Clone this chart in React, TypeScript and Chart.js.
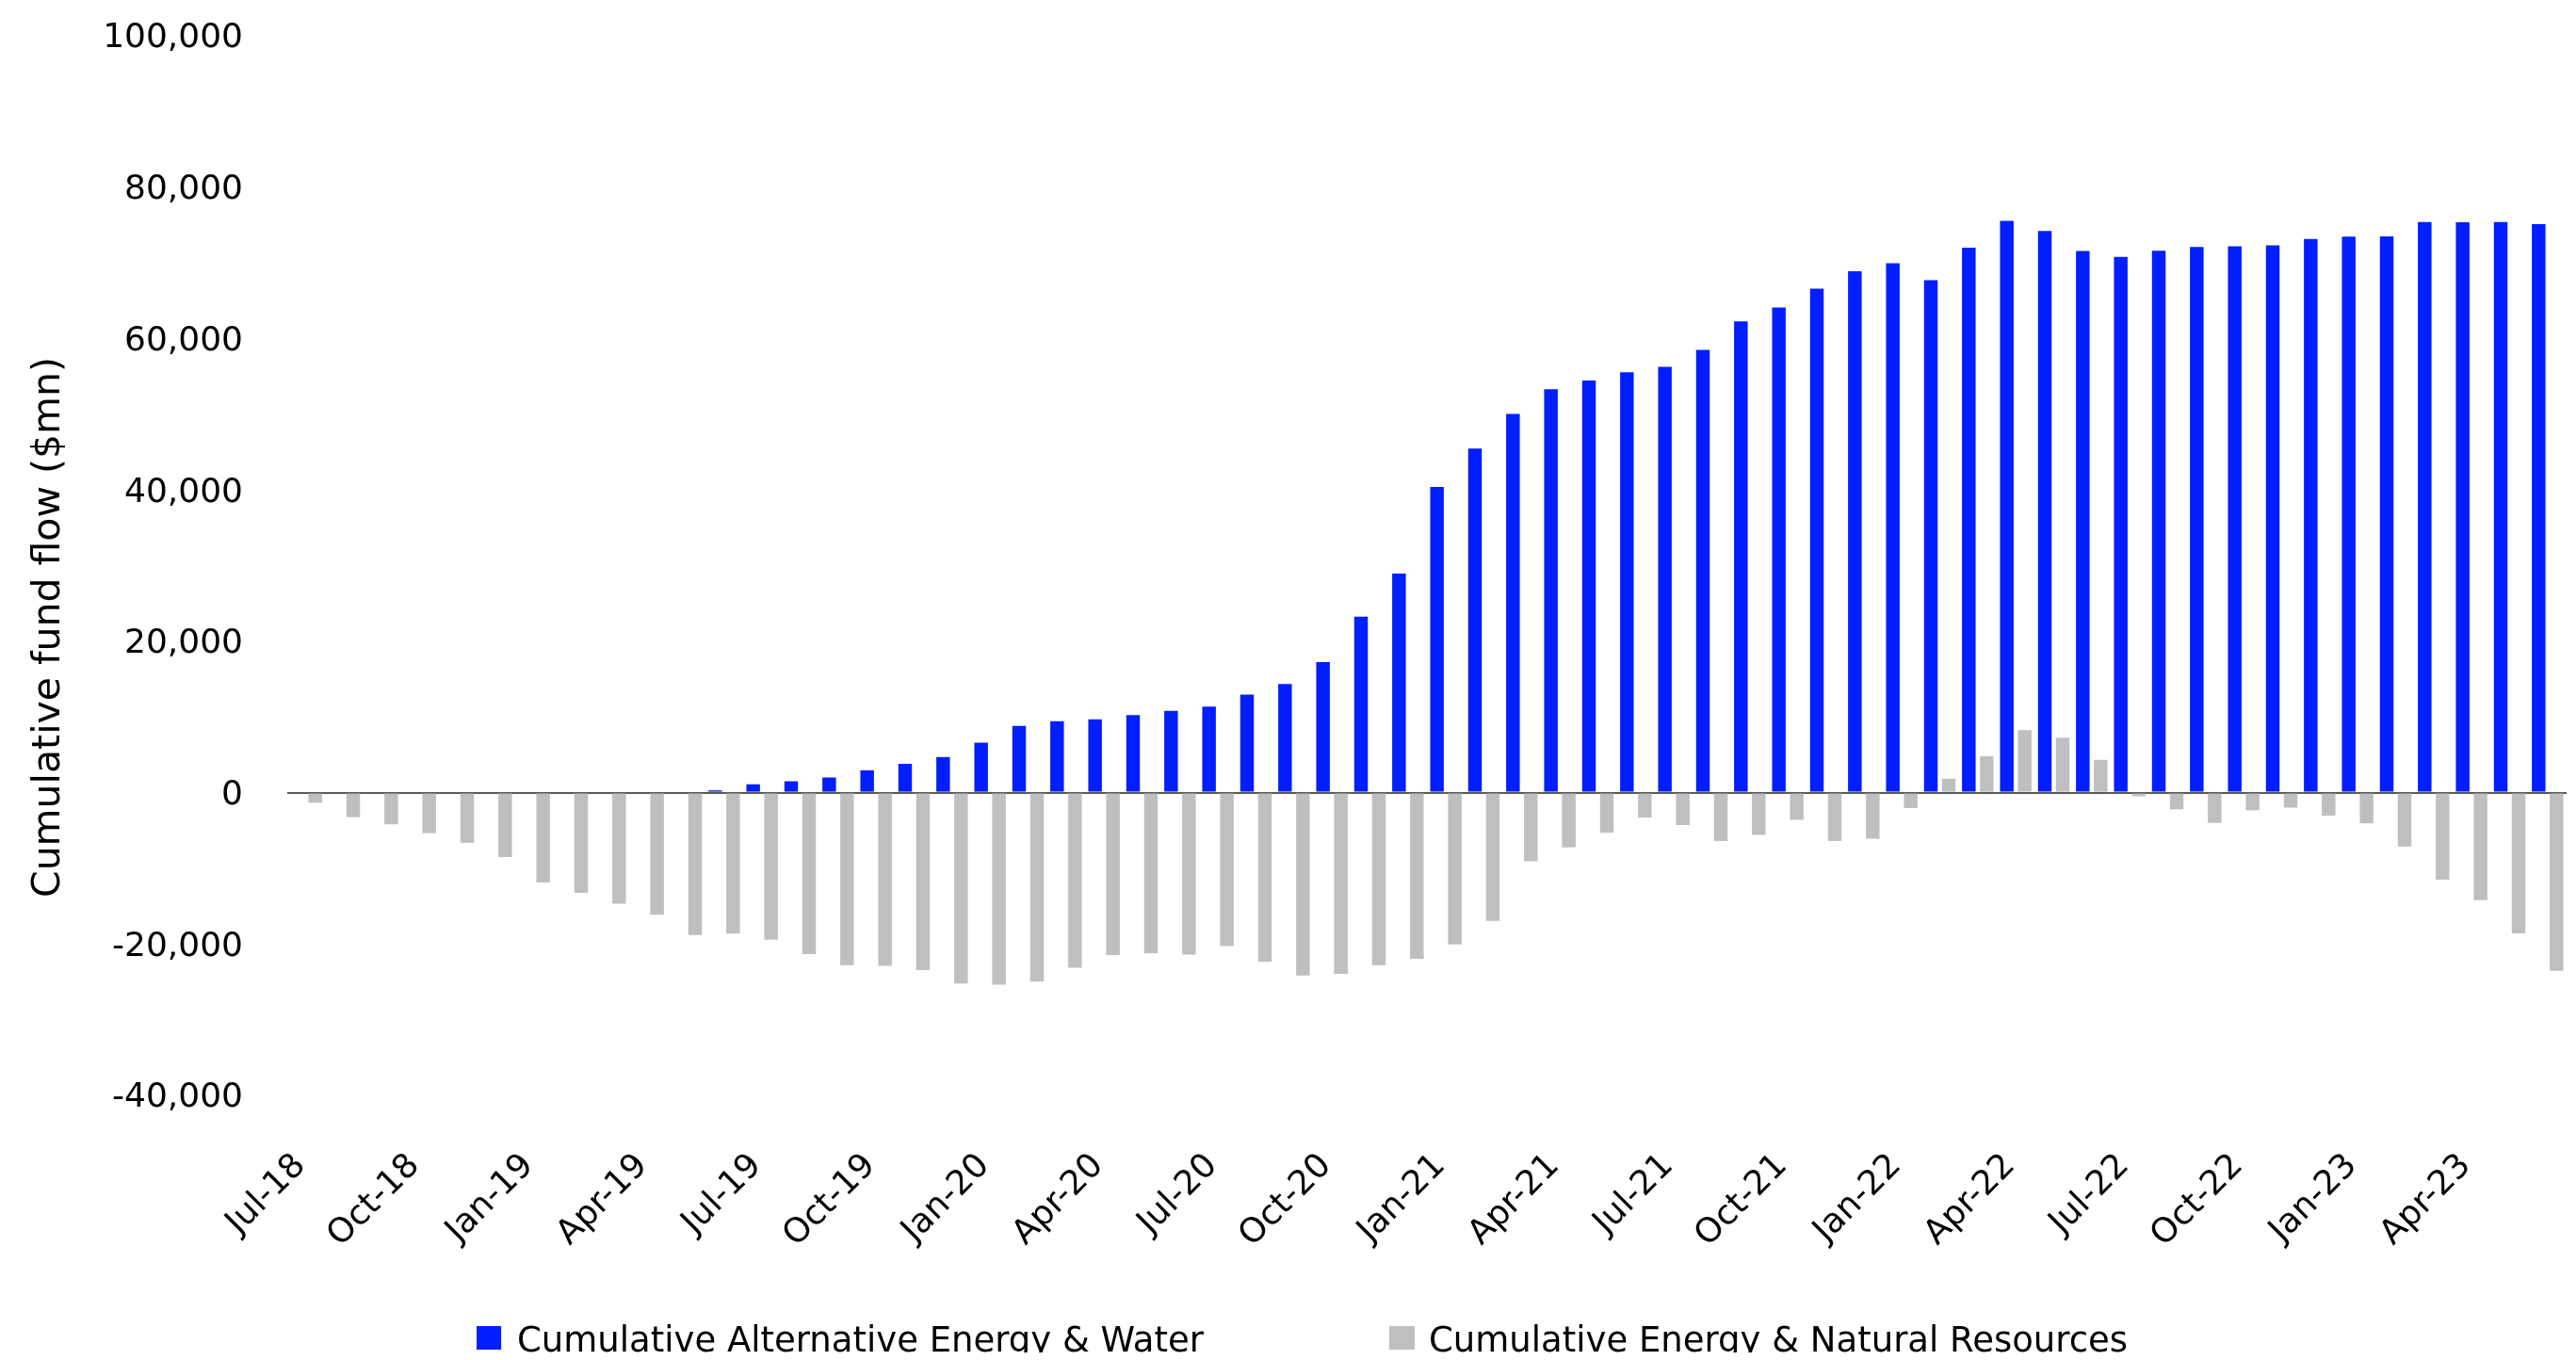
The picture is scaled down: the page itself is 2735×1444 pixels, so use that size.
import React, { useEffect, useRef } from 'react';
import { Chart, registerables } from 'chart.js';

Chart.register(...registerables);

const categories = [
  'Jul-18', 'Aug-18', 'Sep-18', 'Oct-18', 'Nov-18', 'Dec-18',
  'Jan-19', 'Feb-19', 'Mar-19', 'Apr-19', 'May-19', 'Jun-19',
  'Jul-19', 'Aug-19', 'Sep-19', 'Oct-19', 'Nov-19', 'Dec-19',
  'Jan-20', 'Feb-20', 'Mar-20', 'Apr-20', 'May-20', 'Jun-20',
  'Jul-20', 'Aug-20', 'Sep-20', 'Oct-20', 'Nov-20', 'Dec-20',
  'Jan-21', 'Feb-21', 'Mar-21', 'Apr-21', 'May-21', 'Jun-21',
  'Jul-21', 'Aug-21', 'Sep-21', 'Oct-21', 'Nov-21', 'Dec-21',
  'Jan-22', 'Feb-22', 'Mar-22', 'Apr-22', 'May-22', 'Jun-22',
  'Jul-22', 'Aug-22', 'Sep-22', 'Oct-22', 'Nov-22', 'Dec-22',
  'Jan-23', 'Feb-23', 'Mar-23', 'Apr-23', 'May-23', 'Jun-23',
];

// Cumulative fund flow ($mn)
const altEnergyWater = [
  0, 0, 0, 0, 0, 0,
  0, 0, 0, 0, 0, 300,
  1100, 1500, 2000, 2950, 3800, 4700,
  6600, 8800, 9450, 9700, 10250, 10800,
  11350, 12950, 14350, 17250, 23250, 28950,
  40400, 45450, 50050, 53300, 54450, 55550,
  56250, 58500, 62250, 64100, 66600, 68900,
  69950, 67700, 72000, 75550, 74200, 71550,
  70800, 71600, 72100, 72200, 72300, 73150,
  73450, 73500, 75400, 75350, 75400, 75100,
];

const energyNatRes = [
  -1330, -3240, -4190, -5350, -6640, -8510,
  -11870, -13240, -14690, -16140, -18800, -18630,
  -19420, -21330, -22780, -22900, -23440, -25230,
  -25390, -24980, -23150, -21450, -21240, -21410,
  -20290, -22360, -24150, -23940, -22780, -21950,
  -20060, -16940, -9090, -7240, -5300, -3290,
  -4290, -6400, -5580, -3590, -6390, -6090,
  -2040, 1830, 4800, 8260, 7250, 4330,
  -490, -2210, -4000, -2340, -1980, -3050,
  -4060, -7130, -11500, -14210, -18580, -23550,
];

const seriesNames = ['Cumulative Alternative Energy & Water', 'Cumulative Energy & Natural Resources'];
const seriesColors = ['#001EFF', '#BFBFBF'];
const yAxisTitle = 'Cumulative fund flow ($mn)';
const yMin = -40000;
const yMax = 100000;
const yStep = 20000;
const labelEvery = 3;

const FONT = "'DejaVu Sans', sans-serif";
const W = 2719;
const H = 1428;

export default function App() {
  const canvasRef = useRef<HTMLCanvasElement | null>(null);

  useEffect(() => {
    const canvas = canvasRef.current;
    if (!canvas) return;
    const chart = new Chart(canvas, {
      type: 'bar',
      data: {
        labels: categories,
        datasets: [
          {
            label: seriesNames[0],
            data: altEnergyWater,
            backgroundColor: seriesColors[0],
            borderWidth: 0,
            categoryPercentage: 0.942,
            barPercentage: 0.76,
          },
          {
            label: seriesNames[1],
            data: energyNatRes,
            backgroundColor: seriesColors[1],
            borderWidth: 0,
            categoryPercentage: 0.942,
            barPercentage: 0.76,
          },
        ],
      },
      options: {
        responsive: false,
        animation: false,
        devicePixelRatio: 1,
        layout: { padding: { left: 0, right: 2, top: 30, bottom: 0 } },
        plugins: {
          legend: { display: false },
          tooltip: { enabled: false },
        },
        scales: {
          x: {
            grid: { display: false, drawTicks: false },
            border: { display: false },
            ticks: {
              autoSkip: false,
              minRotation: 45,
              maxRotation: 45,
              padding: 54,
              labelOffset: -6,
              color: '#000',
              font: { family: FONT, size: 36 },
              callback: (_v: any, i: number) => (i % labelEvery === 0 ? categories[i] : ''),
            },
            afterFit: (s: any) => {
              s.height = 273;
              s.paddingLeft = 0;
              s.paddingRight = 0;
            },
          },
          y: {
            min: yMin,
            max: yMax,
            border: { display: false },
            grid: {
              drawTicks: false,
              lineWidth: 2,
              color: (c: any) => (c.tick && c.tick.value === 0 ? '#595959' : 'rgba(0,0,0,0)'),
            },
            ticks: {
              stepSize: yStep,
              padding: 47,
              labelOffset: 3,
              color: '#000',
              font: { family: FONT, size: 36 },
              callback: (v: any) => Number(v).toLocaleString('en-US'),
            },
            afterFit: (s: any) => {
              s.width = 297;
              s.paddingTop = 20;
              s.paddingBottom = 20;
            },
          },
        },
      },
    });
    return () => chart.destroy();
  }, []);

  const textStyle: React.CSSProperties = {
    position: 'absolute',
    fontFamily: FONT,
    fontSize: 37,
    lineHeight: '37px',
    color: '#000',
    whiteSpace: 'nowrap',
  };

  return (
    <div style={{ position: 'relative', width: W, height: H, overflow: 'hidden' }}>
      <canvas ref={canvasRef} width={W} height={H} style={{ display: 'block', width: W, height: H }} />
      <div
        style={{
          position: 'absolute',
          left: 41,
          top: 658,
          transform: 'translate(-50%, -50%) rotate(-90deg)',
          fontFamily: FONT,
          fontSize: 41,
          color: '#000',
          whiteSpace: 'nowrap',
        }}
      >
        {yAxisTitle}
      </div>
      <div style={{ position: 'absolute', left: 498, top: 1400, width: 26, height: 25, background: seriesColors[0] }} />
      <div style={{ ...textStyle, left: 541, top: 1396 }}>{seriesNames[0]}</div>
      <div style={{ position: 'absolute', left: 1467, top: 1400, width: 27, height: 25, background: seriesColors[1] }} />
      <div style={{ ...textStyle, left: 1509, top: 1396 }}>{seriesNames[1]}</div>
    </div>
  );
}
